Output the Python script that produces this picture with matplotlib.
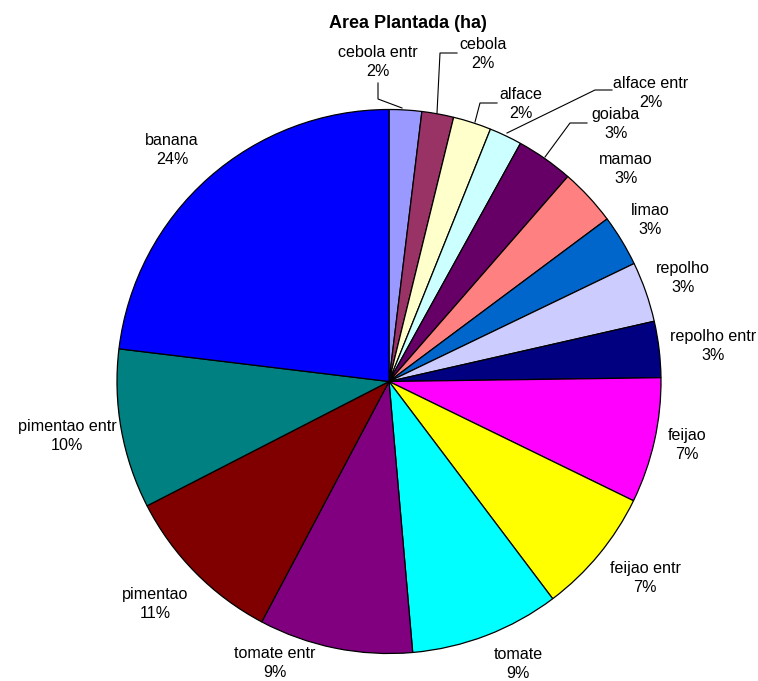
import matplotlib
matplotlib.use("Agg")
import matplotlib.pyplot as plt

W, H = 758, 681

# Data (slice sizes, clockwise from 12 o'clock)
categories = ["cebola entr", "cebola", "alface", "alface entr", "goiaba", "mamao",
              "limao", "repolho", "repolho entr", "feijao", "feijao entr", "tomate",
              "tomate entr", "pimentao", "pimentao entr", "banana"]
area_values = [6.95, 6.8, 8.15, 7.0, 12.2, 12.2, 11.0, 12.9, 12.0, 26.8, 27.0,
               32.0, 32.9, 34.9, 34.1, 83.1]
pct_labels = ["2%", "2%", "2%", "2%", "3%", "3%", "3%", "3%", "3%", "7%", "7%",
              "9%", "9%", "11%", "10%", "24%"]
colors = ["#9999FF", "#993366", "#FFFFCC", "#CCFFFF", "#660066", "#FF8080",
          "#0066CC", "#CCCCFF", "#000080", "#FF00FF", "#FFFF00", "#00FFFF",
          "#800080", "#800000", "#008080", "#0000FF"]

# Label block centres (pixel coords, y from top)
label_pos = [(378, 62), (483, 54), (521, 104), (651, 93), (616, 124), (626, 169),
             (650, 220), (683, 278), (713, 346), (687, 445), (645, 578), (518, 664),
             (275, 663), (155, 604), (67, 436), (172, 150)]
# Leader lines (pixel coords, y from top)
leaders = {
    "cebola entr": [(378, 83), (378, 99), (402, 108)],
    "cebola": [(457, 53), (440, 53), (437, 113)],
    "alface": [(497, 103), (480, 103), (475, 122)],
    "alface entr": [(612, 90), (595, 90), (507, 133)],
    "goiaba": [(587, 123), (570, 123), (545, 157)],
}

plt.rcParams['font.family'] = ['Liberation Sans', 'DejaVu Sans']
fig = plt.figure(figsize=(W / 100, H / 100), dpi=100)
ax = fig.add_axes([0, 0, 1, 1])

cx, cy, R = 389, 381.5, 272
ax.pie(area_values, colors=colors, startangle=90, counterclock=False,
       center=(cx, H - cy), radius=R, frame=True,
       wedgeprops=dict(edgecolor='black', linewidth=0.9))
ax.set_xlim(0, W)
ax.set_ylim(0, H)
ax.set_aspect('equal')
ax.axis('off')

for name, pct, (lx, ly) in zip(categories, pct_labels, label_pos):
    ax.text(lx, H - ly, f"{name}\n{pct}", ha='center', va='center',
            multialignment='center', fontsize=11.6, color='black',
            linespacing=1.3)

for name, pts in leaders.items():
    xs = [p[0] for p in pts]
    ys = [H - p[1] for p in pts]
    ax.plot(xs, ys, color='black', linewidth=0.8)

ax.text(407.5, H - 24, "Area Plantada (ha)", ha='center', va='center',
        fontsize=13, fontweight='bold')

fig.savefig("out.png", dpi=100)
